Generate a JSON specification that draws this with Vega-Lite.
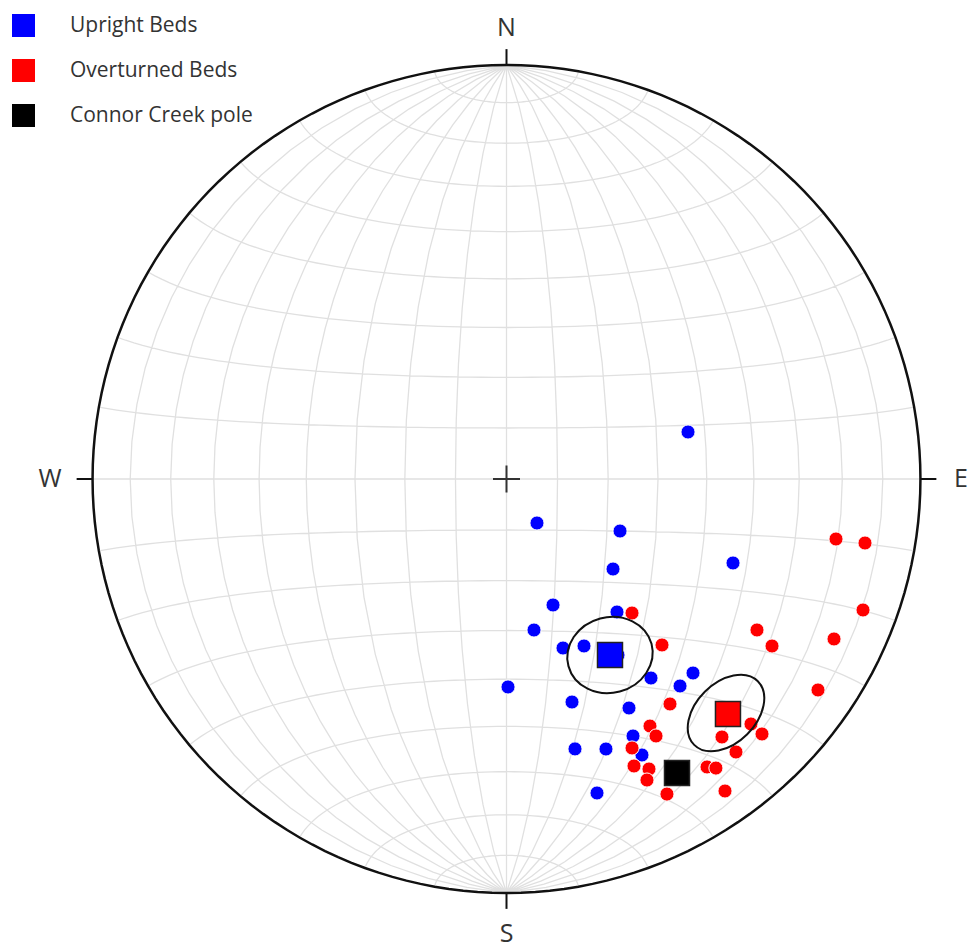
{
  "$schema": "https://vega.github.io/schema/vega-lite/v6.json",
  "width": 969,
  "height": 948,
  "autosize": {"type": "none"},
  "padding": 0,
  "background": "white",
  "config": {"view": {"stroke": null}, "font": "Open Sans"},
  "projection": {"type": "azimuthalEqualArea", "scale": 292.7, "translate": [506.5, 479], "clipAngle": 90},
  "datasets": {
    "poles": [
      {"lon": 36.47, "lat": 8.75, "type": "Upright Beds"},
      {"lon": 6.02, "lat": -8.61, "type": "Upright Beds"},
      {"lon": 22.63, "lat": -10.0, "type": "Upright Beds"},
      {"lon": 21.74, "lat": -17.38, "type": "Upright Beds"},
      {"lon": 46.91, "lat": -15.15, "type": "Upright Beds"},
      {"lon": 9.81, "lat": -24.77, "type": "Upright Beds"},
      {"lon": 23.6, "lat": -25.73, "type": "Upright Beds"},
      {"lon": 6.0, "lat": -29.86, "type": "Upright Beds"},
      {"lon": 12.72, "lat": -33.37, "type": "Upright Beds"},
      {"lon": 17.4, "lat": -32.79, "type": "Upright Beds"},
      {"lon": 0.37, "lat": -41.62, "type": "Upright Beds"},
      {"lon": 16.7, "lat": -44.37, "type": "Upright Beds"},
      {"lon": 31.74, "lat": -44.52, "type": "Upright Beds"},
      {"lon": 34.7, "lat": -38.1, "type": "Upright Beds"},
      {"lon": 42.49, "lat": -38.86, "type": "Upright Beds"},
      {"lon": 44.43, "lat": -36.06, "type": "Upright Beds"},
      {"lon": 35.88, "lat": -49.97, "type": "Upright Beds"},
      {"lon": 20.61, "lat": -54.21, "type": "Upright Beds"},
      {"lon": 29.8, "lat": -53.45, "type": "Upright Beds"},
      {"lon": 34.25, "lat": -62.88, "type": "Upright Beds"},
      {"lon": 41.3, "lat": -53.36, "type": "Upright Beds"},
      {"lon": 25.49, "lat": -34.19, "type": "Upright Beds"},
      {"lon": 26.88, "lat": -25.77, "type": "Overturned Beds"},
      {"lon": 35.04, "lat": -31.5, "type": "Overturned Beds"},
      {"lon": 55.96, "lat": -26.54, "type": "Overturned Beds"},
      {"lon": 60.93, "lat": -28.8, "type": "Overturned Beds"},
      {"lon": 75.61, "lat": -25.32, "type": "Overturned Beds"},
      {"lon": 80.32, "lat": -19.91, "type": "Overturned Beds"},
      {"lon": 69.49, "lat": -9.68, "type": "Overturned Beds"},
      {"lon": 76.74, "lat": -9.86, "type": "Overturned Beds"},
      {"lon": 77.96, "lat": -33.52, "type": "Overturned Beds"},
      {"lon": 41.86, "lat": -42.56, "type": "Overturned Beds"},
      {"lon": 39.25, "lat": -47.45, "type": "Overturned Beds"},
      {"lon": 42.27, "lat": -49.14, "type": "Overturned Beds"},
      {"lon": 37.27, "lat": -52.38, "type": "Overturned Beds"},
      {"lon": 40.9, "lat": -55.84, "type": "Overturned Beds"},
      {"lon": 46.1, "lat": -55.71, "type": "Overturned Beds"},
      {"lon": 47.99, "lat": -57.87, "type": "Overturned Beds"},
      {"lon": 58.24, "lat": -59.08, "type": "Overturned Beds"},
      {"lon": 62.84, "lat": -51.95, "type": "Overturned Beds"},
      {"lon": 65.67, "lat": -51.51, "type": "Overturned Beds"},
      {"lon": 74.87, "lat": -54.04, "type": "Overturned Beds"},
      {"lon": 67.49, "lat": -47.7, "type": "Overturned Beds"},
      {"lon": 60.53, "lat": -46.19, "type": "Overturned Beds"},
      {"lon": 65.93, "lat": -42.46, "type": "Overturned Beds"},
      {"lon": 70.78, "lat": -43.3, "type": "Overturned Beds"}
    ],
    "means": [
      {"lon": 23.65, "lat": -34.3, "type": "Upright Beds"},
      {"lon": 58.19, "lat": -42.04, "type": "Overturned Beds"},
      {"lon": 55.51, "lat": -54.87, "type": "Connor Creek pole"}
    ],
    "ellipses": [
      {"lon": 23.65, "lat": -34.3, "set": "Upright Beds"},
      {"lon": 57.53, "lat": -41.97, "set": "Overturned Beds"}
    ],
    "labels": [
      {"lon": 180, "lat": 79.2, "text": "N"},
      {"lon": 180, "lat": -78.0, "text": "S"},
      {"lon": 101.85, "lat": 0, "text": "E"},
      {"lon": -102.5, "lat": 0, "text": "W"}
    ],
    "ticks": [
      {"lon": 0, "lat": 90, "lon2": 180, "lat2": 85.5},
      {"lon": 0, "lat": -90, "lon2": 180, "lat2": -85.5},
      {"lon": 90, "lat": 0, "lon2": 94.5, "lat2": 0},
      {"lon": -90, "lat": 0, "lon2": -94.5, "lat2": 0}
    ],
    "center": [{"lon": 0, "lat": 0}]
  },
  "layer": [
    {
      "data": {"graticule": {"extentMajor": [[-180, -89.9999], [180, 89.9999]], "extentMinor": [[-180, -89.9999], [180, 89.9999]], "stepMinor": [10, 10]}},
      "mark": {"type": "geoshape", "filled": false, "stroke": "#e0e0e0", "strokeWidth": 1.3}
    },
    {
      "data": {"sphere": true},
      "mark": {"type": "geoshape", "filled": false, "stroke": "#111111", "strokeWidth": 2.5}
    },
    {
      "data": {"name": "ticks"},
      "mark": {"type": "rule", "stroke": "#111111", "strokeWidth": 2},
      "encoding": {
        "longitude": {"field": "lon", "type": "quantitative"},
        "latitude": {"field": "lat", "type": "quantitative"},
        "longitude2": {"field": "lon2"},
        "latitude2": {"field": "lat2"}
      }
    },
    {
      "data": {"name": "center"},
      "mark": {"type": "point", "shape": "M-1,0L1,0M0,-1L0,1", "size": 729, "filled": false, "stroke": "#333333", "strokeWidth": 2, "opacity": 1},
      "encoding": {
        "longitude": {"field": "lon", "type": "quantitative"},
        "latitude": {"field": "lat", "type": "quantitative"}
      }
    },
    {
      "data": {"name": "poles"},
      "mark": {"type": "point", "shape": "circle", "filled": true, "size": 200, "opacity": 1, "stroke": "white", "strokeWidth": 1},
      "encoding": {
        "longitude": {"field": "lon", "type": "quantitative"},
        "latitude": {"field": "lat", "type": "quantitative"},
        "color": {
          "field": "type", "type": "nominal",
          "scale": {"domain": ["Upright Beds", "Overturned Beds", "Connor Creek pole"], "range": ["#0000ff", "#ff0000", "#000000"]},
          "legend": {"orient": "none", "legendX": 12, "legendY": 14, "title": null, "symbolType": "square", "symbolSize": 529, "symbolStrokeWidth": 0, "symbolOpacity": 1, "labelFontSize": 21, "labelFont": "Open Sans", "labelColor": "#333333", "labelOffset": 35, "labelLimit": 400, "rowPadding": 22, "padding": 0}
        }
      }
    },
    {
      "data": {"name": "means"},
      "mark": {"type": "point", "shape": "square", "filled": true, "size": 625, "opacity": 1, "stroke": "#222222", "strokeWidth": 1.5},
      "encoding": {
        "longitude": {"field": "lon", "type": "quantitative"},
        "latitude": {"field": "lat", "type": "quantitative"},
        "color": {
          "field": "type", "type": "nominal",
          "scale": {"domain": ["Upright Beds", "Overturned Beds", "Connor Creek pole"], "range": ["#0000ff", "#ff0000", "#000000"]},
          "legend": {"orient": "none", "legendX": 12, "legendY": 14, "title": null, "symbolType": "square", "symbolSize": 529, "symbolStrokeWidth": 0, "symbolOpacity": 1, "labelFontSize": 21, "labelFont": "Open Sans", "labelColor": "#333333", "labelOffset": 35, "labelLimit": 400, "rowPadding": 22, "padding": 0}
        }
      }
    },
    {
      "data": {"name": "ellipses"},
      "transform": [{"filter": "datum.set === 'Upright Beds'"}],
      "mark": {"type": "point", "shape": "M1,0C1,0.486 0.5523,0.88 0,0.88C-0.5523,0.88 -1,0.486 -1,0C-1,-0.486 -0.5523,-0.88 0,-0.88C0.5523,-0.88 1,-0.486 1,0Z", "size": 7396, "angle": 345, "filled": false, "stroke": "#111111", "strokeWidth": 2, "opacity": 1},
      "encoding": {
        "longitude": {"field": "lon", "type": "quantitative"},
        "latitude": {"field": "lat", "type": "quantitative"}
      }
    },
    {
      "data": {"name": "ellipses"},
      "transform": [{"filter": "datum.set === 'Overturned Beds'"}],
      "mark": {"type": "point", "shape": "M0.667,0C0.667,0.5523 0.368,1 0,1C-0.368,1 -0.667,0.5523 -0.667,0C-0.667,-0.5523 -0.368,-1 0,-1C0.368,-1 0.667,-0.5523 0.667,0Z", "size": 8100, "angle": 45, "filled": false, "stroke": "#111111", "strokeWidth": 2, "opacity": 1},
      "encoding": {
        "longitude": {"field": "lon", "type": "quantitative"},
        "latitude": {"field": "lat", "type": "quantitative"}
      }
    },
    {
      "data": {"name": "labels"},
      "mark": {"type": "text", "fontSize": 25, "font": "Open Sans", "color": "#333333", "align": "center", "baseline": "middle"},
      "encoding": {
        "longitude": {"field": "lon", "type": "quantitative"},
        "latitude": {"field": "lat", "type": "quantitative"},
        "text": {"field": "text"}
      }
    }
  ]
}
